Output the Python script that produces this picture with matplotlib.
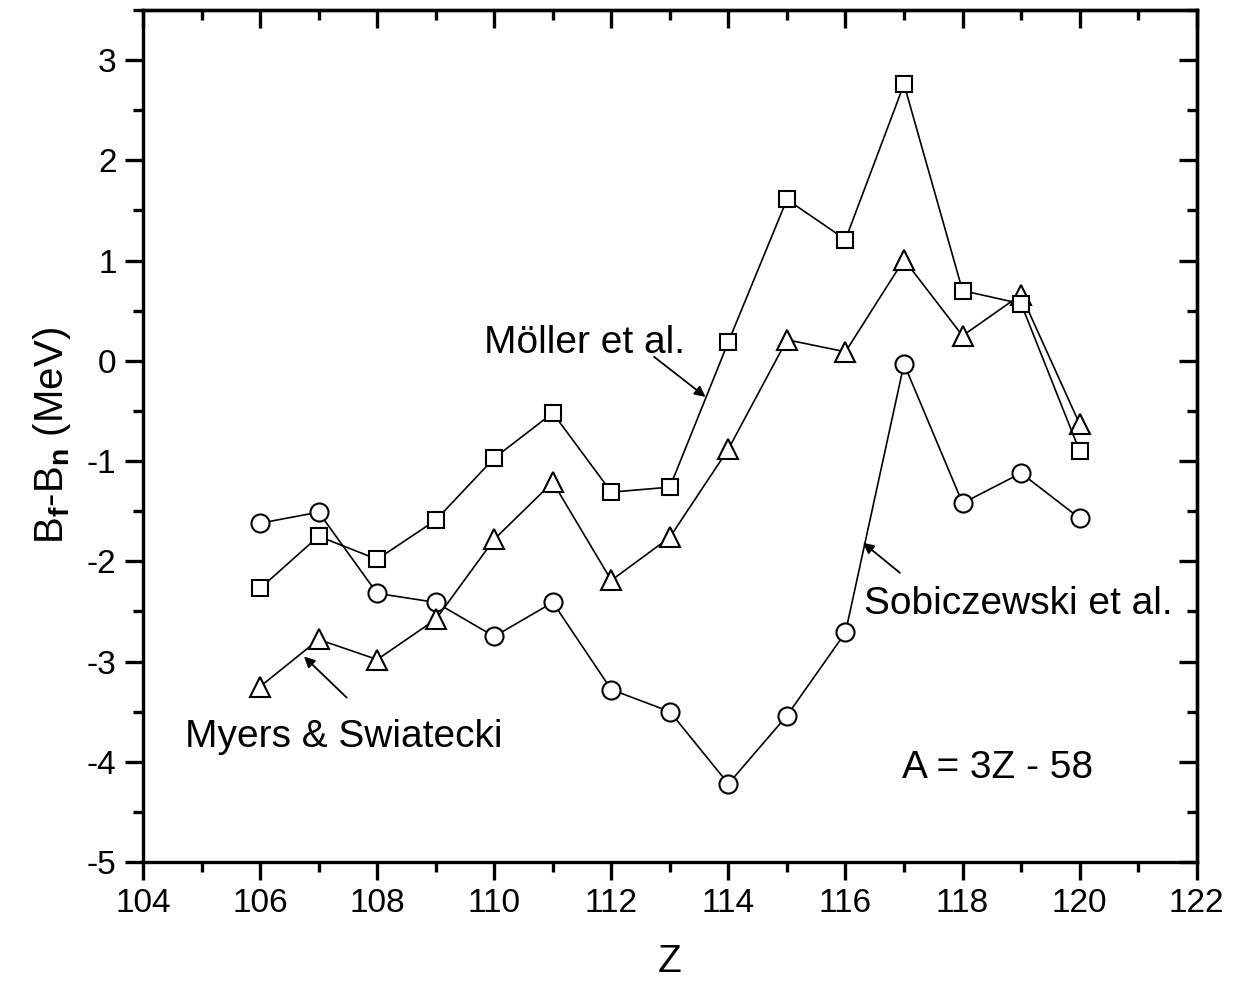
import matplotlib
matplotlib.use('Agg')
import matplotlib.pyplot as plt
from matplotlib.ticker import MultipleLocator

# ---- data ----
Z = [106, 107, 108, 109, 110, 111, 112, 113, 114, 115, 116, 117, 118, 119, 120]
moller = [-2.27, -1.75, -1.98, -1.59, -0.97, -0.52, -1.31, -1.26, 0.19, 1.61,
          1.21, 2.76, 0.70, 0.57, -0.90]
myers = [-3.25, -2.78, -2.98, -2.58, -1.78, -1.21, -2.19, -1.76, -0.88, 0.21,
         0.09, 1.01, 0.25, 0.66, -0.63]
sobiczewski = [-1.62, -1.51, -2.32, -2.41, -2.75, -2.41, -3.28, -3.50, -4.22,
               -3.54, -2.71, -0.03, -1.42, -1.12, -1.57]

plt.rcParams.update({
    'font.family': 'Liberation Sans',
    'axes.unicode_minus': False,
    'mathtext.fontset': 'custom',
    'mathtext.rm': 'Liberation Sans',
    'mathtext.it': 'Liberation Sans:italic',
    'mathtext.bf': 'Liberation Sans:bold',
})

fig = plt.figure(figsize=(12.35, 9.81), dpi=100)
ax = fig.add_axes([0.1158, 0.1213, 0.8532, 0.8685])

line_kw = dict(color='black', lw=1.2, mfc='white', mec='black', mew=1.5)
ax.plot(Z, sobiczewski, marker='o', ms=13, **line_kw)
ax.plot(Z, myers, marker='^', ms=14, **line_kw)
ax.plot(Z, moller, marker='s', ms=11, **line_kw)

ax.set_xlim(104, 122)
ax.set_ylim(-5, 3.5)
ax.xaxis.set_major_locator(MultipleLocator(2))
ax.xaxis.set_minor_locator(MultipleLocator(1))
ax.yaxis.set_major_locator(MultipleLocator(1))
ax.yaxis.set_minor_locator(MultipleLocator(0.5))

for sp in ax.spines.values():
    sp.set_linewidth(2.4)
ax.tick_params(which='both', direction='out', width=2.4, labelsize=24,
               top=False, right=False)
ax.tick_params(which='major', length=13, pad=6)
ax.tick_params(which='minor', length=7)

# inward mirror ticks on top and right
ax_top = ax.secondary_xaxis('top')
ax_top.xaxis.set_major_locator(MultipleLocator(2))
ax_top.xaxis.set_minor_locator(MultipleLocator(1))
ax_top.tick_params(which='both', direction='in', width=2.4, labeltop=False)
ax_top.tick_params(which='major', length=13)
ax_top.tick_params(which='minor', length=7)
ax_top.spines['top'].set_linewidth(2.4)
ax_right = ax.secondary_yaxis('right')
ax_right.yaxis.set_major_locator(MultipleLocator(1))
ax_right.yaxis.set_minor_locator(MultipleLocator(0.5))
ax_right.tick_params(which='both', direction='in', width=2.4, labelright=False)
ax_right.tick_params(which='major', length=13)
ax_right.tick_params(which='minor', length=7)
ax_right.spines['right'].set_linewidth(2.4)

ax.set_xlabel('Z', fontsize=28, labelpad=18)
ax.set_ylabel(r'B$_\mathbf{f}$-B$_\mathbf{n}$ (MeV)', fontsize=29, labelpad=10)

arrow = dict(arrowstyle='-|>', color='black', lw=1.3, mutation_scale=16,
             shrinkA=0, shrinkB=0)
ax.annotate('', xy=(113.61, -0.36), xytext=(112.73, 0.04), arrowprops=arrow)
ax.annotate('', xy=(106.75, -2.95), xytext=(107.48, -3.36), arrowprops=arrow)
ax.annotate('', xy=(116.30, -1.815), xytext=(116.93, -2.115), arrowprops=arrow)

ax.text(109.83, 0.18, 'Möller et al.', fontsize=28, va='center', ha='left')
ax.text(104.72, -3.75, 'Myers & Swiatecki', fontsize=28, va='center', ha='left')
ax.text(116.32, -2.43, 'Sobiczewski et al.', fontsize=28, va='center', ha='left')
ax.text(118.6, -4.06, 'A = 3Z - 58', fontsize=28, va='center', ha='center')

fig.savefig('out.png', dpi=100)
